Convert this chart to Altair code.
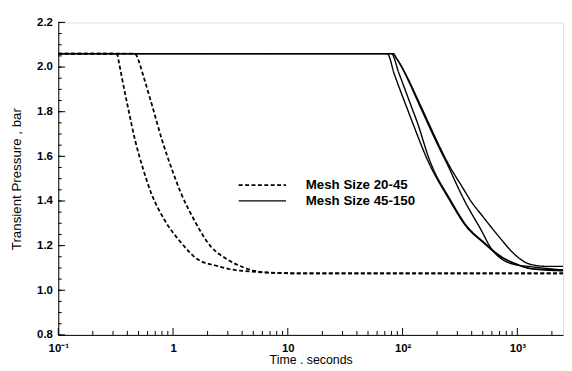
import altair as alt
import pandas as pd

# ---- data ----
# Mesh Size 20-45 (dashed)
dash_a_t = [0.1, 0.31, 0.327, 0.337, 0.354, 0.406, 0.468, 0.547, 0.644, 0.839, 1.167, 1.622, 2.41, 3.80, 11.7, 2500]
dash_a_p = [2.06, 2.06, 2.055, 2.023, 1.966, 1.816, 1.670, 1.546, 1.436, 1.317, 1.215, 1.140, 1.109, 1.088, 1.076, 1.076]
dash_b_t = [0.1, 0.46, 0.476, 0.506, 0.547, 0.667, 0.805, 0.971, 1.171, 1.52, 2.11, 2.94, 4.08, 6.07, 12, 2500]
dash_b_p = [2.06, 2.06, 2.055, 2.023, 1.966, 1.816, 1.670, 1.546, 1.436, 1.317, 1.199, 1.140, 1.103, 1.081, 1.076, 1.076]
# Mesh Size 45-150 (solid)
sol_a_t = [0.1, 73.6, 84.5, 109.3, 120.7, 165.5, 255.9, 358, 501, 700, 961, 1345, 2500]
sol_a_p = [2.06, 2.06, 1.970, 1.816, 1.758, 1.582, 1.405, 1.286, 1.215, 1.153, 1.118, 1.096, 1.087]
sol_b_t = [0.1, 79.7, 93.3, 120.7, 133.1, 172.2, 260.8, 365, 511, 715, 980, 1371, 2500]
sol_b_p = [2.06, 2.06, 1.970, 1.816, 1.758, 1.582, 1.405, 1.286, 1.215, 1.153, 1.118, 1.096, 1.091]
sol_c_t = [0.1, 82.8, 88.0, 144.2, 162.3, 213.8, 236.2, 311.9, 343.6, 481, 598, 729, 906, 1345, 2500]
sol_c_p = [2.06, 2.06, 2.041, 1.816, 1.758, 1.626, 1.582, 1.449, 1.405, 1.272, 1.184, 1.140, 1.118, 1.105, 1.091]
sol_d_t = [0.1, 82.8, 88.0, 147.0, 165.5, 218.3, 241.0, 343.6, 387.5, 501, 687, 942, 1268, 1811, 2500]
sol_d_p = [2.06, 2.06, 2.041, 1.816, 1.758, 1.626, 1.582, 1.449, 1.405, 1.330, 1.242, 1.162, 1.118, 1.107, 1.107]

legend_labels = ["Mesh Size 20-45", "Mesh Size 45-150"]
x_label_values = [0.1, 1, 10, 100, 1000]
y_label_values = [0.8, 1.0, 1.2, 1.4, 1.6, 1.8, 2.0, 2.2]

curves = [
    ("A", "20-45", dash_a_t, dash_a_p),
    ("B", "20-45", dash_b_t, dash_b_p),
    ("C", "45-150", sol_a_t, sol_a_p),
    ("D", "45-150", sol_b_t, sol_b_p),
    ("E", "45-150", sol_c_t, sol_c_p),
    ("F", "45-150", sol_d_t, sol_d_p),
]
rows = []
for cid, grp, ts, ps in curves:
    for i, (t, p) in enumerate(zip(ts, ps)):
        rows.append({"curve": cid, "group": grp, "t": t, "p": p, "order": i})
df = pd.DataFrame(rows)

x_major = [0.1, 1, 10, 100, 1000]
x_minor = [m * d for d in [0.1, 1, 10, 100, 1000] for m in range(2, 10) if m * d <= 2500]
y_major = y_label_values
y_minor = [round(0.8 + 0.05 * i, 2) for i in range(29)]

W, H = 512, 317
FONT = "Liberation Sans"

xscale = alt.Scale(type="log", domain=[0.1, 2500], nice=False)
yscale = alt.Scale(domain=[0.8, 2.2], nice=False, zero=False)

x_axis = alt.Axis(
    values=x_label_values, ticks=False, grid=False, domainColor="black",
    labelExpr="datum.value < 0.5 ? '10⁻¹' : datum.value < 5 ? '1' : datum.value < 50 ? '10' : datum.value < 500 ? '10²' : '10³'",
    labelFont=FONT, labelFontSize=11.5, labelFontWeight="bold", labelColor="black", labelPadding=8,
    title="Time . seconds", titleFont=FONT, titleFontSize=12.5, titleFontWeight="normal",
    titleColor="black", titlePadding=0, labelFlush=False,
)
y_axis = alt.Axis(
    values=y_label_values, format=".1f", ticks=False, grid=False, domainColor="black",
    labelFont=FONT, labelFontSize=11.5, labelFontWeight="bold", labelColor="black", labelPadding=6,
    title="Transient  Pressure , bar", titleFont=FONT, titleFontSize=13.5, titleFontWeight="normal",
    titleColor="black", titlePadding=13,
)

dash_scale = alt.Scale(domain=["20-45", "45-150"], range=[[4, 2.5], [1, 0]])
width_scale = alt.Scale(domain=["20-45", "45-150"], range=[1.8, 1.4])

lines = alt.Chart(df).mark_line(interpolate="monotone", color="black").encode(
    x=alt.X("t:Q", scale=xscale, axis=x_axis),
    y=alt.Y("p:Q", scale=yscale, axis=y_axis),
    detail="curve:N",
    order="order:Q",
    strokeDash=alt.StrokeDash("group:N", scale=dash_scale, legend=None),
    strokeWidth=alt.StrokeWidth("group:N", scale=width_scale, legend=None),
)

def xticks(vals, length):
    d = pd.DataFrame({"t": vals})
    return alt.Chart(d).mark_rule(color="black", strokeWidth=1).encode(
        x=alt.X("t:Q", scale=xscale, axis=x_axis),
        y=alt.value(H), y2=alt.value(H - length),
    )

def yticks(vals, length):
    d = pd.DataFrame({"p": vals})
    return alt.Chart(d).mark_rule(color="black", strokeWidth=1).encode(
        y=alt.Y("p:Q", scale=yscale, axis=y_axis),
        x=alt.value(0), x2=alt.value(length),
    )

leg = pd.DataFrame({"label": legend_labels, "dash": ["20-45", "45-150"], "yy": [165, 181]})
leg_lines = alt.Chart(leg).mark_rule(color="black").encode(
    x=alt.value(183), x2=alt.value(231),
    y=alt.Y("yy:Q", scale=None),
    strokeDash=alt.StrokeDash("dash:N", scale=dash_scale, legend=None),
    strokeWidth=alt.StrokeWidth("dash:N", scale=width_scale, legend=None),
)
leg_text = alt.Chart(leg).mark_text(align="left", baseline="middle", font=FONT, fontSize=13.5,
                                     fontWeight="bold", color="black").encode(
    x=alt.value(251), y=alt.Y("yy:Q", scale=None), text="label:N",
)

chart = alt.layer(
    lines,
    xticks(x_major, 7), xticks(x_minor, 4),
    yticks(y_major, 7), yticks(y_minor, 3.5),
    leg_lines, leg_text,
).properties(
    width=W, height=H,
    autosize=alt.AutoSizeParams(type="none"),
    padding={"left": 51, "top": 12, "right": 1, "bottom": 34},
).configure_view(stroke="black", strokeWidth=1).configure(background="white")

chart.save("out.html", embed_options={"renderer": "svg", "actions": False})
